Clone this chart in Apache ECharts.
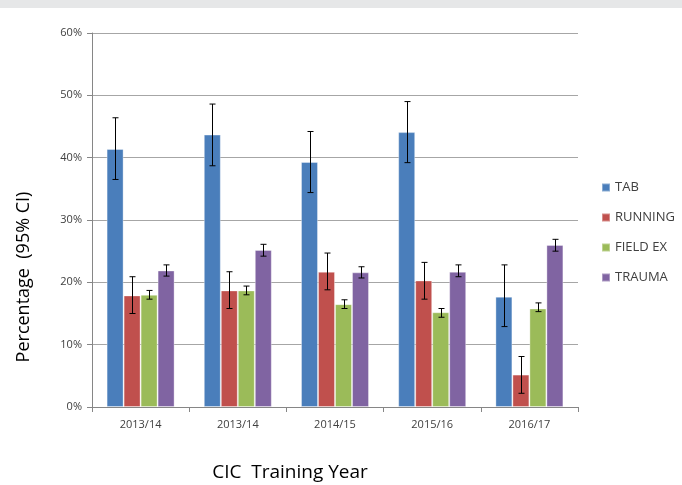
<!DOCTYPE html>
<html>
<head>
<meta charset="utf-8">
<script src="https://cdn.jsdelivr.net/npm/echarts@6/dist/echarts.min.js"></script>
<style>
  html, body { margin: 0; padding: 0; background: #fff; }
  #topband { position: absolute; left: 0; top: 0; width: 682px; height: 8px; background: #e6e7e8; }
  #chart { width: 682px; height: 485px; }
</style>
</head>
<body>
<div id="topband"></div>
<div id="chart"></div>
<script>
// 数据
var years = ['2013/14', '2013/14', '2014/15', '2015/16', '2016/17'];
var seriesNames = ['TAB', 'RUNNING', 'FIELD EX', 'TRAUMA'];
var colors = ['#4a7ebb', '#c0504d', '#9bbb59', '#8064a2'];

var tabVal = [41.4, 43.7, 39.3, 44.1, 17.7];
var tabLow = [36.5, 38.7, 34.4, 39.2, 12.9];
var tabHigh = [46.4, 48.6, 44.2, 49.0, 22.8];

var runVal = [17.9, 18.7, 21.7, 20.3, 5.2];
var runLow = [15.0, 15.8, 18.8, 17.3, 2.2];
var runHigh = [20.9, 21.7, 24.7, 23.2, 8.1];

var fieldVal = [18.0, 18.7, 16.5, 15.2, 15.8];
var fieldLow = [17.3, 18.0, 15.8, 14.4, 15.3];
var fieldHigh = [18.7, 19.4, 17.2, 15.8, 16.7];

var traumaVal = [21.9, 25.2, 21.6, 21.7, 26.0];
var traumaLow = [21.0, 24.2, 20.7, 20.9, 25.0];
var traumaHigh = [22.8, 26.1, 22.5, 22.8, 26.9];

var values = [tabVal, runVal, fieldVal, traumaVal];
var lows = [tabLow, runLow, fieldLow, traumaLow];
var highs = [tabHigh, runHigh, fieldHigh, traumaHigh];

var BAR_W = 17;
var textColor = '#404040';
var fontFam = '"Open Sans", "Liberation Sans", sans-serif';

var myChart = echarts.init(document.getElementById('chart'));

var series = [];
// 柱子
seriesNames.forEach(function (name, i) {
    series.push({
        name: name,
        type: 'bar',
        barWidth: BAR_W,
        barGap: 0,
        itemStyle: { color: colors[i], borderColor: 'rgba(255,255,255,0.35)', borderWidth: 1 },
        data: values[i]
    });
});
// 误差线 (95% CI)
seriesNames.forEach(function (name, i) {
    var errData = [];
    for (var k = 0; k < years.length; k++) {
        errData.push([k, lows[i][k], highs[i][k]]);
    }
    series.push({
        type: 'custom',
        silent: true,
        z: 10,
        encode: { x: 0, y: [1, 2] },
        data: errData,
        renderItem: function (params, api) {
            var lo = api.coord([api.value(0), api.value(1)]);
            var hi = api.coord([api.value(0), api.value(2)]);
            var x = Math.round(lo[0] + (i - 1.5) * BAR_W) + 0.5;
            var cap = 3;
            var style = { stroke: '#000', lineWidth: 1 };
            return {
                type: 'group',
                children: [
                    { type: 'line', shape: { x1: x, y1: hi[1], x2: x, y2: lo[1] }, style: style },
                    { type: 'line', shape: { x1: x - cap, y1: hi[1], x2: x + cap, y2: hi[1] }, style: style },
                    { type: 'line', shape: { x1: x - cap, y1: lo[1], x2: x + cap, y2: lo[1] }, style: style }
                ]
            };
        }
    });
});

var option = {
    animation: false,
    textStyle: { fontFamily: fontFam },
    grid: { left: 92, right: 104, top: 33, bottom: 78 },
    // 轴标题
    graphic: [
        {
            type: 'text',
            x: 290, y: 473,
            style: { text: 'CIC  Training Year', fontSize: 19, fill: '#000', fontFamily: fontFam, align: 'center', verticalAlign: 'middle' }
        },
        {
            type: 'text',
            x: 24, y: 277,
            rotation: Math.PI / 2,
            style: { text: 'Percentage  (95% CI)', fontSize: 18, fill: '#000', fontFamily: fontFam, align: 'center', verticalAlign: 'middle' }
        }
    ],
    legend: {
        orient: 'vertical',
        left: 596,
        top: 176,
        itemGap: 17,
        itemWidth: 8,
        itemHeight: 8,
        icon: 'rect',
        data: seriesNames,
        textStyle: { color: textColor, fontSize: 13, fontFamily: fontFam }
    },
    xAxis: {
        type: 'category',
        data: years,
        axisLine: { lineStyle: { color: '#868686' } },
        axisTick: { show: true, length: 5, lineStyle: { color: '#868686' } },
        axisLabel: { color: textColor, fontSize: 11, margin: 12 }
    },
    yAxis: {
        type: 'value',
        min: 0,
        max: 60,
        interval: 10,
        axisLine: { show: true, lineStyle: { color: '#868686' } },
        axisTick: { show: true, length: 5, lineStyle: { color: '#868686' } },
        axisLabel: { color: textColor, fontSize: 11, margin: 10, formatter: '{value}%' },
        splitLine: { lineStyle: { color: '#a6a6a6' } }
    },
    series: series
};
myChart.setOption(option);
</script>
</body>
</html>
